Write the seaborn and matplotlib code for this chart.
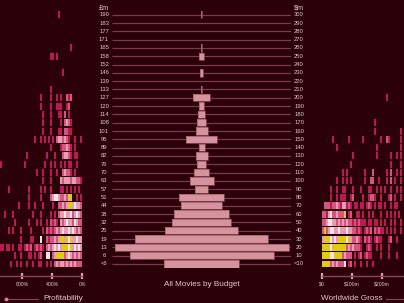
import matplotlib
matplotlib.use("Agg")
import matplotlib.pyplot as plt
from matplotlib import transforms
from matplotlib.lines import Line2D
import numpy as np
import pandas as pd
import seaborn as sns

# ---------------- data ----------------
budget_labels = ["190", "183", "177", "171", "165", "158", "152", "146", "139", "133",
                 "127", "120", "114", "108", "101", "95", "89", "82", "76", "70",
                 "63", "57", "51", "44", "38", "32", "25", "19", "13", "6", "<6"]
gross_labels = ["300", "290", "280", "270", "260", "250", "240", "230", "220", "210",
                "200", "190", "180", "170", "160", "150", "140", "130", "120", "110",
                "100", "90", "80", "70", "60", "50", "40", "30", "20", "10", "<10"]
movie_counts = [1, 0, 0, 0, 1, 3, 0, 2, 0, 1,
                11, 3, 5, 6, 8, 21, 4, 8, 6, 10,
                16, 9, 30, 27, 37, 39, 49, 89, 116, 96, 50]

profit_ticks = [1200, 800, 400, 0]
profit_tick_labels = ["1200%", "800%", "400%", "0%"]
gross_ticks = [0, 100, 200]
gross_tick_labels = ["$0", "$100m", "$200m"]

profit_bin = 80 / 3        # % per cell
profit_start = 3280 / 3    # profitability at left edge of first cell
gross_bin = 20 / 3         # $m per cell
gross_start = 0.0

# cell levels: . none, 1 crimson, 2 pink, 3 light pink, 4 white, 5 yellow
profit_rows = [
    "..........|..........|.........1|..........|.",
    "..........|..........|..........|..........|.",
    "..........|..........|..........|..........|.",
    "..........|..........|..........|..........|.",
    "..........|..........|..........|.....1....|.",
    "..........|..........|.....11.1.|..........|.",
    "..........|..........|..........|..........|.",
    "..........|..........|..........|.1........|.",
    "..........|..........|..........|..........|.",
    "..........|..........|.....1....|..........|.",
    "..........|..........|1....1..1.|1..212....|.",
    "..........|..........|1....1..11|1..12.....|.",
    "..........|..........|.1...1...1|1.2.1.....|.",
    "..........|..........|.1...1....|1.2321....|.",
    "..........|..........|.1...1...1|1.2211....|.",
    "..........|.......1..|1.1.1.1.23|32321..1..|1",
    "..........|..........|.....1....|122321.1..|.",
    "..........|...1......|...1...1..|.23321.11.|.",
    "1.........|..1.......|..1..1.1..|1.1.11..1.|.",
    "..........|........1.|.1...1..1.|.23221.1..|.",
    "..........|..........|.1...1....|3233323322|1",
    "....1.....|....1.....|1.1..1....|11.1.1.1.1|.",
    "..........|....1.....|1....23443|223255..1.|1",
    ".........1|....1..1..|.1....1..2|2323553433|2",
    "..1...1...|......1...|1....1.1.2|3343342343|2",
    ".......1..|....1...1.|1..1.2121.|3234332432|2",
    "....1.1...|1....1....|.1.2121232|3433434323|2",
    "..........|1....11...|4..2122323|5535453343|3",
    "11.11.1..1|1.1212.121|21.2323434|3555453434|3",
    ".......1..|1...11.1.1|2..44.2355|5523432323|2",
    ".....1..1.|1..1..1..1|1..1.1.232|3323232322|2",
]
gross_rows = [
    "..........|..........|..........|..........|.",
    "..........|..........|..........|..........|.",
    "..........|..........|..........|..........|.",
    "..........|..........|..........|..........|.",
    "..........|..........|..........|..........|.",
    "..........|..........|..........|..........|.",
    "..........|..........|..........|..........|.",
    "..........|..........|..........|..........|.",
    "..........|..........|..........|..........|.",
    "..........|..........|..........|..........|.",
    "..........|..........|..........|..1.......|.",
    "..........|..........|..........|..........|.",
    "..........|..........|..........|..........|.",
    "..........|..........|......1...|..........|.",
    "..........|..........|......1...|.........1|.",
    ".....1....|...1......|1........1|..21.....1|.",
    ".......1..|..........|.......1..|.........1|.",
    "..........|.....1....|.......1..|....1..1.1|.",
    "..........|....1.....|..........|....1....1|.",
    "..........|1.1.......|.1...2....|..1.2..1.1|.",
    ".......1..|1.1.1.....|.1..22..1.|..1.2.1..1|.",
    "....1..1..|11...1...1|...11..1.1|.1..1..1.1|.",
    "....1..1.1|11..12....|1..1221..1|...12.1..1|.",
    ".222122321|33121.11.1|1.121.1.11|.1..1.11..|.",
    "2213422322|25.12..11.|1..1.1...1|..1.1.1.1.|.",
    "2234433232|3232212121|11.11.11.1|.1..1.1..1|.",
    "2523443343|3343322121|.1212.2121|1.1.1.1..1|.",
    "3555434355|5545322321|.2121.1211|...12..1..|.",
    "5555455555|5523232221|..121..1.1|...1......|.",
    "5555445555|23222.1.12|.1211....1|...1...1..|.",
    "5555232322|24.12.1..1|..1..1....|..........|.",
]

# ---------------- style ----------------
BG = "#2b0009"
TXT = "#e3c6cb"
GRID = "#7a3c48"
BAR = "#d4939d"
BAR_EDGE = "#9a5261"
AXLINE = "#8a4654"
TICK = "#e6a2b2"
LEVEL_COLORS = {"1": "#bb1953", "2": "#d4557f", "3": "#e79cb4",
                "4": "#f6e1e9", "5": "#e0cb14"}

sns.set_theme(style="dark")
plt.rcParams["font.family"] = ["Liberation Sans", "DejaVu Sans"]
plt.rcParams["axes.facecolor"] = BG
plt.rcParams["figure.facecolor"] = BG

W, H = 404, 303
fig = plt.figure(figsize=(W / 100, H / 100), dpi=100)
fig.patch.set_facecolor(BG)


def rect(x0, x1, y0, y1):
    return [x0 / W, 1 - y1 / H, (x1 - x0) / W, (y1 - y0) / H]


n = len(budget_labels)
ROW0, STEP = 14.7, 8.31
ytop = ROW0 - STEP / 2
ybot = ROW0 + STEP * (n - 1) + STEP / 2
rows = np.arange(n)

# ---------------- centre: all movies by budget ----------------
axc = fig.add_axes(rect(112, 291, ytop, ybot))
df = pd.DataFrame({"label": budget_labels, "count": movie_counts})
df["half"] = df["count"] / 2
df["neg"] = -df["count"] / 2
sns.barplot(data=df, x="half", y="label", orient="h", color=BAR, saturation=1,
            width=0.88, linewidth=0, errorbar=None, ax=axc, zorder=3)
sns.barplot(data=df, x="neg", y="label", orient="h", color=BAR, saturation=1,
            width=0.88, linewidth=0, errorbar=None, ax=axc, zorder=3)
nz = df[df["count"] > 0]
axc.barh(nz.index, nz["count"], left=-nz["count"] / 2, height=0.88, fill=False,
         edgecolor=BAR_EDGE, linewidth=0.5, zorder=4)
half_w = 179 / 1.5 / 2
axc.hlines(rows, -half_w, half_w, color=GRID, lw=0.9, zorder=1)
axc.set_xlim(-half_w, half_w)
axc.set_ylim(n - 0.5, -0.5)
axc.set_xlabel("")
axc.set_ylabel("")
axc.set_xticks([])
axc.set_yticks([])
axc.set_facecolor(BG)
for s in axc.spines.values():
    s.set_visible(False)
bt = transforms.blended_transform_factory(axc.transAxes, axc.transData)
for i, (lb, rb) in enumerate(zip(budget_labels, gross_labels)):
    axc.text((104 - 112) / 179, i, lb, transform=bt, ha="center", va="center",
             fontsize=4.2, color=TXT)
    axc.text((299 - 112) / 179, i, rb, transform=bt, ha="center", va="center",
             fontsize=4.2, color=TXT)
fig.text(104 / W, 1 - 8 / H, "£m", ha="center", va="center", fontsize=5.2, color=TXT)
fig.text(299 / W, 1 - 8 / H, "$m", ha="center", va="center", fontsize=5.2, color=TXT)
fig.text(202 / W, 1 - 285 / H, "All Movies by Budget", ha="center", va="center",
         fontsize=5.9, color=TXT)


def cells(rows_s, start, step, direction):
    xs, ys, cs = [], [], []
    for r, s in enumerate(rows_s):
        s = s.replace("|", "")
        for i, ch in enumerate(s):
            if ch in LEVEL_COLORS:
                xs.append(start + direction * (i + 0.5) * step)
                ys.append(r)
                cs.append(LEVEL_COLORS[ch])
    return np.array(xs), np.array(ys, dtype=float), cs


def side_axis(ax, ticks, labels, lo, hi):
    for k in ["top", "left", "right"]:
        ax.spines[k].set_visible(False)
    sp = ax.spines["bottom"]
    sp.set_visible(True)
    sp.set_color(AXLINE)
    sp.set_linewidth(1.0)
    sp.set_position(("outward", 5.8))
    sp.set_bounds(lo, hi)
    ax.set_xticks(ticks)
    ax.set_xticklabels(labels)
    ax.tick_params(axis="x", direction="inout", length=4.6, width=1.6, color=TICK,
                   labelsize=3.7, labelcolor=TXT, pad=1.6, bottom=True)
    ax.set_yticks([])
    ax.set_ylim(n - 0.5, -0.5)
    ax.set_facecolor(BG)
    ax.grid(False)


# ---------------- left: profitability ----------------
axl = fig.add_axes(rect(-20, 84, ytop, ybot))
xs, ys, cs = cells(profit_rows, profit_start, profit_bin, -1)
axl.bar(xs, 0.84, width=profit_bin * 0.7, bottom=ys - 0.42, color=cs, linewidth=0)
axl.set_xlim((82 + 20) / 0.075, (82 - 84) / 0.075)
side_axis(axl, profit_ticks, profit_tick_labels, 0, (82 + 20) / 0.075)

# ---------------- right: worldwide gross ----------------
axr = fig.add_axes(rect(318, 424, ytop, ybot))
xs, ys, cs = cells(gross_rows, gross_start, gross_bin, 1)
axr.bar(xs, 0.84, width=gross_bin * 0.7, bottom=ys - 0.42, color=cs, linewidth=0)
axr.set_xlim((318 - 322) / 0.3, (424 - 322) / 0.3)
side_axis(axr, gross_ticks, gross_tick_labels, 0, (424 - 322) / 0.3)

# ---------------- titles of side panels ----------------
fig.text(83 / W, 1 - 299 / H, "Profitability", ha="right", va="center",
         fontsize=5.9, color=TXT)
fig.add_artist(Line2D([7 / W, 38 / W], [1 - 299 / H, 1 - 299 / H], color=AXLINE, lw=0.8))
fig.add_artist(Line2D([6 / W], [1 - 299 / H], marker="o", ms=1.8, color="#e07a95", lw=0))
fig.text(321 / W, 1 - 299 / H, "Worldwide Gross", ha="left", va="center",
         fontsize=5.9, color=TXT)
fig.add_artist(Line2D([386 / W, 404 / W], [1 - 299 / H, 1 - 299 / H], color=AXLINE, lw=0.8))

fig.savefig("out.png", dpi=100, facecolor=BG)
